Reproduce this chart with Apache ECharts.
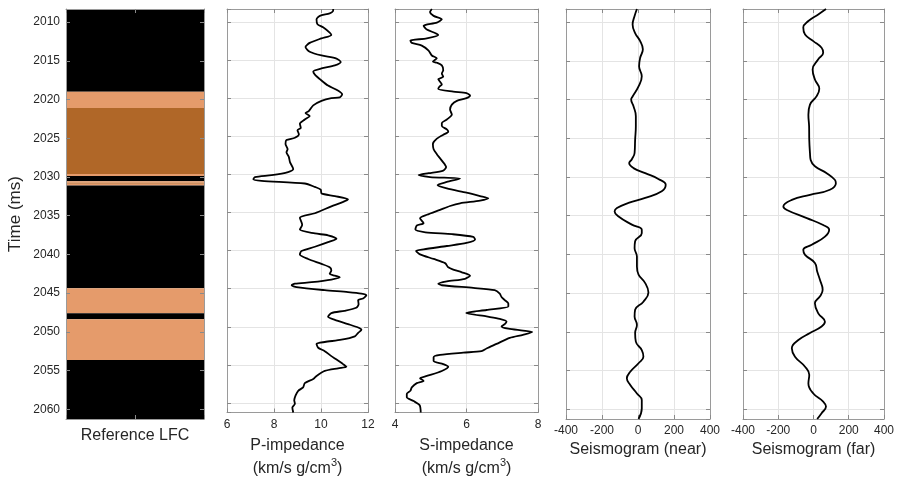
<!DOCTYPE html>
<html><head><meta charset="utf-8">
<script src="https://cdn.jsdelivr.net/npm/echarts@6/dist/echarts.min.js"></script>
<style>html,body{margin:0;padding:0;background:#fff}#c{width:897px;height:482px}</style>
</head><body><div id="c"></div>
<script>
const timeMin = 2008.3, timeMax = 2061.25;

// Reference LFC (facies) intervals
const lfcStart = [2008.3, 2019.0, 2021.07, 2029.6, 2029.87, 2030.56, 2030.75, 2030.88, 2031.08, 2044.35, 2047.58, 2048.36, 2053.62];
const lfcEnd   = [2019.0, 2021.07, 2029.6, 2029.87, 2030.56, 2030.75, 2030.88, 2031.08, 2044.35, 2047.58, 2048.36, 2053.62, 2061.25];
const lfcClass = [0, 1, 2, 1, 0, 1, 2, 1, 0, 1, 0, 1, 0];
const lfcColors = ['#000000', '#E59B6B', '#B06728'];

// P-impedance
const pTime = [2008.3,2008.58,2008.87,2009.2,2009.65,2010.3,2010.7,2011.4,2011.7,2012.15,2012.75,2013.3,2013.9,2014.4,2014.8,2015.25,2015.7,2016.1,2016.5,2016.9,2017.6,2018.35,2018.9,2019.5,2019.9,2020.0,2020.35,2020.95,2021.7,2021.95,2022.35,2022.8,2023.35,2023.9,2024.2,2024.75,2025.2,2025.5,2026.0,2026.7,2027.1,2027.7,2028.4,2029.3,2029.7,2030.1,2030.35,2030.65,2030.85,2031.2,2031.65,2032.0,2032.5,2032.85,2033.3,2033.7,2034.2,2035.1,2035.7,2036.6,2037.25,2037.75,2038.0,2038.45,2038.9,2039.5,2040.05,2040.5,2041.1,2041.75,2042.2,2042.6,2043.05,2043.3,2043.5,2043.8,2044.15,2044.35,2044.55,2044.8,2045.2,2045.45,2045.65,2045.85,2046.3,2046.5,2047.05,2047.5,2047.9,2048.2,2048.7,2049.1,2049.65,2050.1,2050.4,2050.8,2051.25,2051.7,2052.0,2052.25,2052.75,2053.2,2053.85,2054.3,2054.9,2055.25,2055.45,2055.8,2056.45,2056.85,2057.4,2057.95,2058.4,2059.0,2059.65,2060.1,2060.6,2061.25];
const pValue = [10.52,10.51,10.37,9.95,9.81,9.85,10.09,10.37,10.44,10.02,9.52,9.34,9.52,10.02,10.66,10.84,10.59,10.02,9.67,9.74,9.99,10.3,10.66,10.9,10.8,10.44,10.02,9.67,9.48,9.34,9.52,9.31,9.1,9.14,9.0,9.06,8.89,8.53,8.49,8.58,8.53,8.63,8.68,8.82,8.6,7.9,7.19,7.12,7.47,9.31,9.74,9.99,10.02,10.59,11.15,10.87,10.44,9.74,9.1,9.2,9.1,9.74,10.3,10.66,10.3,9.74,9.17,9.1,9.45,10.02,10.37,10.44,10.37,10.59,10.8,10.44,9.6,8.89,8.75,8.96,10.16,11.15,11.72,11.93,11.79,11.58,11.6,11.5,11.0,10.44,10.3,10.59,11.15,11.58,11.72,11.58,11.44,10.87,10.16,9.81,9.88,10.16,10.44,10.66,10.94,11.08,10.73,10.16,9.81,9.67,9.31,9.24,9.03,8.92,8.86,8.89,8.78,8.82];

// S-impedance
const sTime = [2008.3,2008.7,2009.2,2009.65,2010.1,2010.5,2011.0,2011.45,2011.7,2012.15,2012.45,2012.75,2013.1,2013.75,2014.4,2014.75,2015.2,2015.35,2015.7,2016.35,2016.75,2017.2,2017.5,2017.85,2018.2,2018.5,2018.8,2019.15,2019.35,2019.65,2020.0,2020.35,2020.85,2021.5,2022.15,2022.8,2023.25,2023.65,2024.1,2024.4,2024.8,2025.4,2026.0,2026.7,2027.35,2028.2,2029.05,2029.5,2029.85,2030.1,2030.35,2030.55,2031.0,2031.4,2031.85,2032.4,2032.85,2033.15,2033.45,2033.8,2034.15,2034.65,2035.3,2035.75,2036.4,2036.7,2037.25,2037.6,2037.85,2038.2,2038.55,2039.0,2039.4,2039.85,2040.05,2040.5,2041.1,2041.65,2042.2,2042.5,2042.85,2043.3,2043.7,2044.05,2044.35,2044.55,2044.9,2045.2,2045.65,2046.1,2046.5,2046.95,2047.35,2047.8,2048.2,2048.65,2048.95,2049.3,2049.65,2049.95,2050.25,2050.5,2050.7,2051.05,2051.45,2052.25,2052.85,2053.2,2053.4,2053.7,2054.0,2054.5,2054.9,2055.25,2055.8,2056.45,2056.75,2057.1,2057.4,2057.95,2058.4,2058.8,2059.25,2059.75,2060.3,2061.25];
const sValue = [5.03,4.98,5.08,5.31,5.17,4.8,4.89,5.12,5.21,4.89,4.43,4.47,4.75,4.94,5.03,5.17,5.06,5.17,5.31,5.35,5.31,5.35,5.21,5.26,5.31,5.24,5.21,5.63,6.0,6.1,6.0,5.73,5.59,5.54,5.59,5.45,5.31,5.31,5.45,5.49,5.35,5.15,5.06,5.08,5.17,5.31,5.43,5.35,4.94,4.66,4.98,5.82,5.45,5.19,5.45,6.0,6.38,6.61,6.38,5.82,5.54,5.26,4.89,4.7,4.8,4.61,4.57,4.85,5.6,6.19,6.24,6.0,5.45,4.8,4.59,4.7,5.08,5.4,5.49,5.63,5.87,6.1,5.96,5.45,5.21,5.31,6.19,6.79,6.93,6.98,7.07,7.17,7.17,6.56,5.99,6.56,6.93,7.12,7.07,6.98,7.17,7.58,7.84,7.58,7.21,6.84,6.56,6.42,5.91,5.26,5.08,5.08,5.35,5.49,5.31,4.89,4.7,4.8,4.61,4.47,4.43,4.33,4.33,4.52,4.69,4.72];

// Seismogram (near)
const nearTime = [2008.3,2009.2,2010.3,2011.4,2012.45,2013.5,2014.6,2015.7,2017.0,2018.3,2019.6,2020.0,2020.85,2022.15,2023.45,2025.2,2026.9,2027.7,2028.2,2028.85,2029.5,2030.25,2031.0,2031.85,2032.7,2033.35,2034.0,2034.45,2035.1,2036.15,2036.8,2037.25,2038.3,2039.2,2040.25,2041.55,2042.6,2043.7,2044.9,2046.1,2047.15,2048.0,2049.1,2050.15,2051.25,2052.35,2053.2,2054.05,2055.15,2056.0,2056.85,2057.95,2058.8,2059.9,2061.25];
const nearValue = [-6,-19,-30,-16,12,27,12,6,21,3,-30,-38,-25,-12,-12,-16,-19,-34,-49,-25,40,113,154,132,40,-53,-117,-130,-108,-34,21,21,-16,-19,-6,-6,3,40,58,30,-16,-19,-6,-16,-12,21,30,3,-43,-62,-43,-6,21,21,3];

// Seismogram (far)
const farTime = [2008.3,2009.0,2009.85,2010.7,2011.6,2012.45,2013.3,2013.95,2014.8,2016.1,2017.4,2018.6,2019.55,2020.65,2021.95,2023.45,2025.2,2026.9,2027.8,2028.6,2029.5,2030.35,2030.8,2031.65,2032.3,2032.95,2033.8,2034.25,2035.3,2036.2,2036.8,2037.7,2038.75,2039.4,2040.05,2041.1,2042.2,2043.3,2044.55,2045.4,2046.3,2047.6,2048.7,2049.3,2050.15,2051.05,2052.1,2053.2,2054.5,2055.55,2056.65,2057.95,2059.0,2059.65,2060.5,2061.25];
const farValue = [71,27,-29,-58,-48,-1,46,55,27,-5,8,33,18,-20,-29,-25,-24,-20,-16,8,75,121,127,93,-20,-123,-171,-151,-38,55,89,65,-10,-58,-48,8,21,37,52,37,8,27,65,46,-20,-86,-123,-105,-48,-24,-29,-1,55,71,46,21];

const FONT = 'Liberation Sans, Arial, Helvetica, sans-serif';
const TXT = '#262626', AXC = '#9a9a9a', GRIDC = '#e4e4e4';

const panels = [
  {left: 66,  width: 138, xmin: 0,    xmax: 1,   xint: 0.5, labels: false, name: 'Reference LFC', gap: 9},
  {left: 227, width: 141, xmin: 6,    xmax: 12,  xint: 2,   labels: true,  name: '{n|P-impedance}\n{n|(km/s g/cm}{s|3}{n|)}', gap: 22},
  {left: 395, width: 143, xmin: 4,    xmax: 8,   xint: 2,   labels: true,  name: '{n|S-impedance}\n{n|(km/s g/cm}{s|3}{n|)}', gap: 22},
  {left: 566, width: 144, xmin: -400, xmax: 400, xint: 200, labels: true,  name: 'Seismogram (near)', gap: 23},
  {left: 743, width: 141, xmin: -400, xmax: 400, xint: 200, labels: true,  name: 'Seismogram (far)', gap: 23}
];

const grids = [], xAxes = [], yAxes = [];
panels.forEach((p, i) => {
  const zz = i === 0 ? 5 : 0;
  grids.push({left: p.left, top: 9, width: p.width, height: 410, containLabel: false});
  const tick = {show: true, inside: true, length: 4, lineStyle: {color: '#8a8a8a', width: 1}};
  const line = {show: true, onZero: false, lineStyle: {color: AXC, width: 1}};
  xAxes.push({
    type: 'value', gridIndex: i, position: 'bottom', min: p.xmin, max: p.xmax, interval: p.xint, z: zz,
    axisLine: line, axisTick: tick,
    splitLine: {show: i > 0, lineStyle: {color: GRIDC, width: 1}},
    axisLabel: {show: p.labels, color: TXT, fontSize: 12, fontFamily: FONT, margin: 6},
    name: p.name, nameLocation: 'middle', nameGap: p.gap, nameMoveOverlap: false,
    nameTextStyle: {
      color: TXT, fontSize: 16, fontFamily: FONT,
      rich: {
        n: {fontSize: 16, lineHeight: 23, color: TXT, fontFamily: FONT},
        s: {fontSize: 11, lineHeight: 7, verticalAlign: 'top', color: TXT, fontFamily: FONT}
      }
    }
  });
  xAxes.push({
    type: 'value', gridIndex: i, position: 'top', min: p.xmin, max: p.xmax, interval: p.xint, z: zz,
    axisLine: line, axisTick: tick, splitLine: {show: false}, axisLabel: {show: false}
  });
  yAxes.push({
    type: 'value', gridIndex: i, position: 'left', inverse: true, min: timeMin, max: timeMax, splitNumber: 10, z: zz,
    axisLine: line, axisTick: tick,
    splitLine: {show: i > 0, lineStyle: {color: GRIDC, width: 1}},
    axisLabel: {
      show: i === 0, color: TXT, fontSize: 12, fontFamily: FONT, margin: 6,
      showMinLabel: false, showMaxLabel: false,
      formatter: v => (Math.abs(v % 5) < 1e-6 ? String(v) : '')
    },
    name: i === 0 ? 'Time (ms)' : '', nameLocation: 'middle', nameGap: 42, nameMoveOverlap: false,
    nameTextStyle: {color: TXT, fontSize: 17, fontFamily: FONT}
  });
  yAxes.push({
    type: 'value', gridIndex: i, position: 'right', inverse: true, min: timeMin, max: timeMax, splitNumber: 10, z: zz,
    axisLine: line, axisTick: tick, splitLine: {show: false}, axisLabel: {show: false}
  });
});

function pairs(t, v) { return t.map((tt, k) => [v[k], tt]); }
const lineStyle = {color: '#000', width: 1.8};

const series = [
  {
    type: 'custom', xAxisIndex: 0, yAxisIndex: 0, silent: true,
    data: lfcStart.map((s, k) => [s, lfcEnd[k], lfcClass[k]]),
    encode: {y: [0, 1]},
    renderItem: function (params, api) {
      const p0 = api.coord([0, api.value(0)]);
      const p1 = api.coord([1, api.value(1)]);
      return {type: 'rect', shape: {x: p0[0], y: p0[1], width: p1[0] - p0[0], height: p1[1] - p0[1]},
              style: {fill: lfcColors[api.value(2)]}};
    }
  },
  {type: 'line', xAxisIndex: 2, yAxisIndex: 2, data: pairs(pTime, pValue), showSymbol: false, smooth: 0.25, lineStyle: lineStyle, z: 3},
  {type: 'line', xAxisIndex: 4, yAxisIndex: 4, data: pairs(sTime, sValue), showSymbol: false, smooth: 0.25, lineStyle: lineStyle, z: 3},
  {type: 'line', xAxisIndex: 6, yAxisIndex: 6, data: pairs(nearTime, nearValue), showSymbol: false, smooth: 0.45, lineStyle: lineStyle, z: 3},
  {type: 'line', xAxisIndex: 8, yAxisIndex: 8, data: pairs(farTime, farValue), showSymbol: false, smooth: 0.45, lineStyle: lineStyle, z: 3}
];

const chart = echarts.init(document.getElementById('c'), null, {renderer: 'canvas'});
chart.setOption({
  animation: false,
  backgroundColor: '#fff',
  grid: grids, xAxis: xAxes, yAxis: yAxes, series: series
});
</script>
</body></html>
